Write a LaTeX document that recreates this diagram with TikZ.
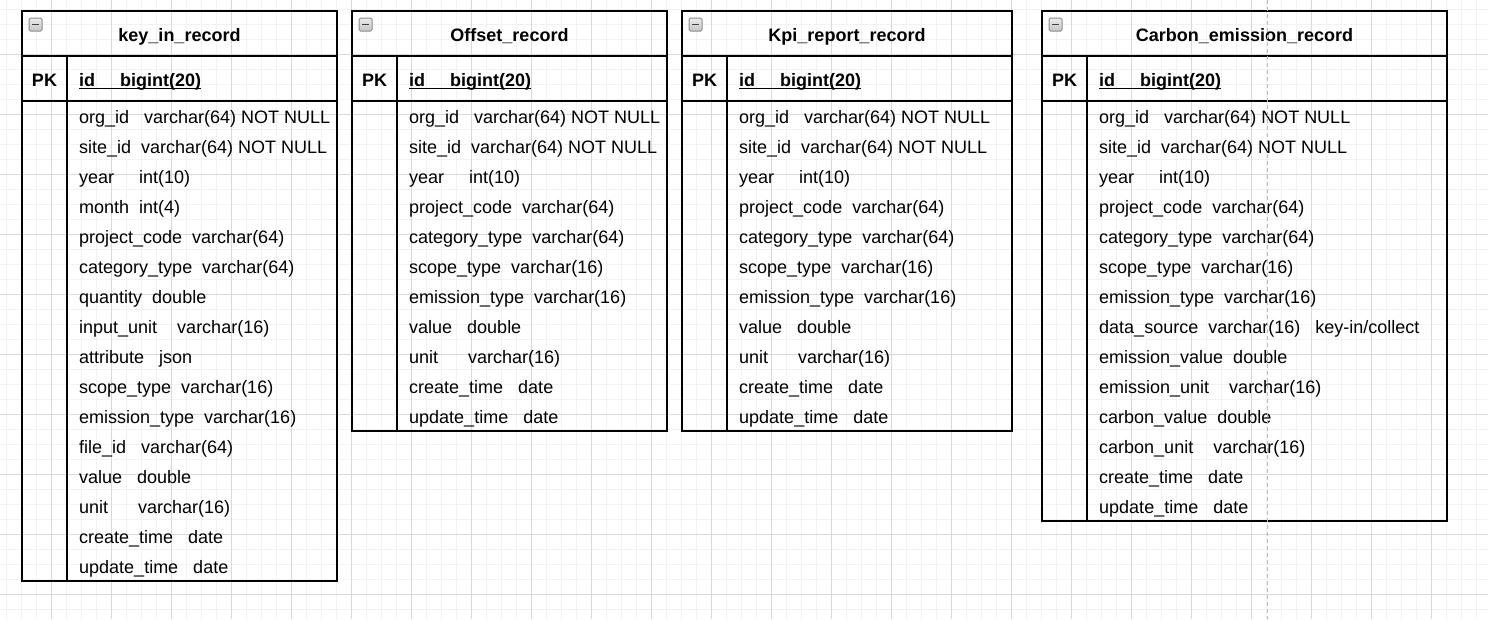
\documentclass[tikz,border=0pt]{standalone}
\usepackage{fontspec}
\setmainfont{Liberation Sans}

\definecolor{minorgrid}{HTML}{F2F2F2}
\definecolor{majorgrid}{HTML}{D9D9D9}
\definecolor{guidegray}{HTML}{BDBDBD}

\tikzset{
    minorline/.style={draw=minorgrid, line width=1pt},
    majorline/.style={draw=majorgrid, line width=1pt},
    tableline/.style={draw=black, line width=1.3pt},
    fieldtext/.style={anchor=base west, inner sep=0pt, font=\fontsize{18}{21}\selectfont},
    titletext/.style={anchor=base, inner sep=0pt, font=\fontsize{18}{21}\selectfont\bfseries},
    foldicon/.style={draw=gray!90, top color=gray!15, bottom color=gray!45, rounded corners=1.5pt, line width=1pt},
    guideline/.style={draw=guidegray, dash pattern=on 4pt off 3pt, line width=1pt},
}

\begin{document}
\begin{tikzpicture}[x=1pt,y=-1pt]
    \useasboundingbox (0,0) rectangle (1488,619);
    \fill[white] (0,0) rectangle (1488,619);

    % grid
    \foreach \x in {6,21,...,1488} {
            \draw[minorline] (\x,0) -- (\x,619);
        }
    \foreach \y in {9,24,...,619} {
            \draw[minorline] (0,\y) -- (1488,\y);
        }
    \foreach \x in {51,111,...,1488} {
            \draw[majorline] (\x,0) -- (\x,619);
        }
    \foreach \y in {54,114,...,619} {
            \draw[majorline] (0,\y) -- (1488,\y);
        }

    % tables
    \foreach \tb/\l/\r/\rows/\title in {ki/22/337/16/key\_in\_record,
            of/352/667/11/Offset\_record,
            kp/682/1012/11/Kpi\_report\_record,
            ce/1042/1447/14/Carbon\_emission\_record} {
            \pgfmathsetmacro\b{101+30*\rows}
            \draw[tableline] (\l,11) rectangle (\r,\b);
            \draw[tableline] (\l,56) -- (\r,56);
            \draw[tableline] (\l,101) -- (\r,101);
            \draw[tableline] (\l+45,56) -- (\l+45,\b);
            \draw[foldicon] (\l+7,18) rectangle (\l+20,31);
            \draw[black!75, line width=1.8pt] (\l+10,24.5) -- (\l+17,24.5);
            \node[titletext] (\tb-title) at ({(\l+\r)/2},41) {\title};
            \node[titletext] (\tb-pk) at (\l+22.5,86) {PK};
            \node[fieldtext, font=\fontsize{18}{21}\selectfont\bfseries] (\tb-id) at (\l+57,86) {id~~~~~bigint(20)};
            \draw[line width=1pt] ([yshift=-2.3pt]\tb-id.base west) -- ([yshift=-2.3pt]\tb-id.base east);
        }

    % fields
    \foreach \f [count=\i from 0] in {org\_id~~~varchar(64) NOT NULL, site\_id~~varchar(64) NOT NULL,
            year~~~~~int(10), month~~int(4), project\_code~~varchar(64), category\_type~~varchar(64),
            quantity~~double, input\_unit~~~~varchar(16), attribute~~~json, scope\_type~~varchar(16),
            emission\_type~~varchar(16), file\_id~~~varchar(64), value~~~double, unit~~~~~~varchar(16),
            create\_time~~~date, update\_time~~~date} {
            \node[fieldtext] (ki-f\i) at (79,{123+30*\i}) {\f};
        }
    \foreach \x/\tb in {409/of,739/kp} {
            \foreach \f [count=\i from 0] in {org\_id~~~varchar(64) NOT NULL, site\_id~~varchar(64) NOT NULL,
                    year~~~~~int(10), project\_code~~varchar(64), category\_type~~varchar(64),
                    scope\_type~~varchar(16), emission\_type~~varchar(16), value~~~double,
                    unit~~~~~~varchar(16), create\_time~~~date, update\_time~~~date} {
                    \node[fieldtext] (\tb-f\i) at (\x,{123+30*\i}) {\f};
                }
        }
    \foreach \f [count=\i from 0] in {org\_id~~~varchar(64) NOT NULL, site\_id~~varchar(64) NOT NULL,
            year~~~~~int(10), project\_code~~varchar(64), category\_type~~varchar(64),
            scope\_type~~varchar(16), emission\_type~~varchar(16), data\_source~~varchar(16)~~~key-in/collect,
            emission\_value~~double, emission\_unit~~~~varchar(16), carbon\_value~~double,
            carbon\_unit~~~~varchar(16), create\_time~~~date, update\_time~~~date} {
            \node[fieldtext] (ce-f\i) at (1099,{123+30*\i}) {\f};
        }

    % guide
    \draw[guideline] (1267,0) -- (1267,619);
\end{tikzpicture}
\end{document}
